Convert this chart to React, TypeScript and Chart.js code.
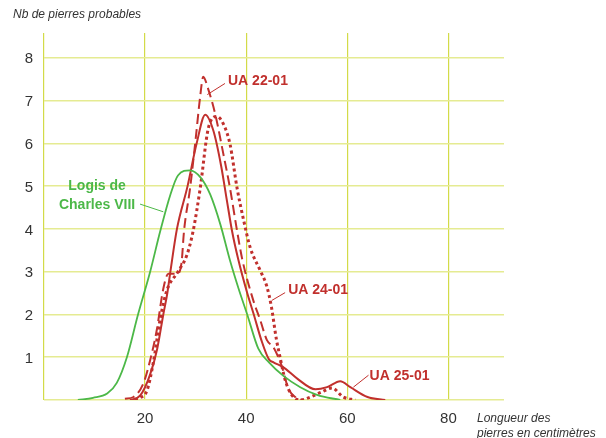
import React, { useEffect, useRef } from 'react';
import { Chart, registerables } from 'chart.js';

Chart.register(...registerables);

// ---- Data ----
const xTickValues = [20, 40, 60, 80];
const yTickValues = [1, 2, 3, 4, 5, 6, 7, 8];

const logisX = [6.7, 9.7, 12.5, 14.4, 16.4, 18.6, 21, 23, 25, 26.5, 28.9, 31, 32.9, 34.9, 36.8, 38.5, 40.2, 42.4, 44.5, 47.3, 50.7, 54, 58.6];
const logisY = [0, 0.05, 0.15, 0.4, 1.0, 2.0, 3.0, 3.95, 4.8, 5.25, 5.37, 5.2, 4.8, 4.1, 3.26, 2.6, 2.0, 1.2, 0.88, 0.57, 0.3, 0.12, 0];

const ua22X = [16, 17.7, 19.7, 21, 22.3, 23.6, 24.6, 26.3, 27.2, 27.7, 28.9, 30.0, 30.9, 31.5, 32.4, 33.9, 35.4, 36.8, 38.2, 39.2, 41.4, 42.8, 44.1, 45.4, 47.1, 48.3, 49.7, 51];
const ua22Y = [0.03, 0.07, 0.4, 0.93, 1.63, 2.6, 2.95, 2.95, 3.2, 3.95, 4.95, 6.1, 7.1, 7.56, 7.3, 6.67, 5.8, 4.95, 3.95, 3.3, 2.33, 1.86, 1.4, 1.23, 0.77, 0.28, 0.07, 0];

const ua24X = [18, 19, 20.4, 21.6, 23, 24.3, 26.5, 28.3, 29.5, 30.9, 32.5, 34.2, 35.5, 36.8, 38.2, 39.5, 40.8, 42.8, 44.1, 45, 46, 46.7, 47.7, 49, 50.7, 52.3, 55, 57, 59.2, 61.6];
const ua24Y = [0, 0.05, 0.23, 0.86, 1.9, 2.56, 3.0, 3.4, 3.95, 4.95, 6.35, 6.63, 6.45, 5.98, 4.95, 4.2, 3.56, 3.02, 2.65, 2.17, 1.4, 1.0, 0.47, 0.12, 0, 0.05, 0.19, 0.28, 0.07, 0];

const ua25X = [17, 19, 21, 22.4, 23.6, 24.4, 25, 26.3, 28.4, 30.2, 31.9, 33.5, 35, 36.2, 37.2, 38.4, 40.2, 41.5, 43, 44.5, 45.4, 47.3, 50.1, 53.7, 56, 58.6, 60.6, 64, 67.5];
const ua25Y = [0, 0.1, 0.6, 1.2, 2.0, 2.5, 3.0, 4.0, 5.0, 6.0, 6.67, 6.3, 5.5, 4.65, 3.95, 3.3, 2.5, 2.0, 1.4, 0.95, 0.88, 0.77, 0.5, 0.25, 0.3, 0.44, 0.3, 0.07, 0];

const RED = '#c1302d';
const GREEN = '#4cb848';
const FONT = '"Liberation Sans", Arial, Helvetica, sans-serif';

// Annotation labels anchored in data space
const annotations = [
  { lines: ['UA 22-01'], color: RED, at: [36.4, 7.37], align: 'left', from: [32.3, 7.14], to: [35.8, 7.4] },
  { lines: ['UA 24-01'], color: RED, at: [48.3, 2.47], align: 'left', from: [45.1, 2.33], to: [47.7, 2.51] },
  { lines: ['UA 25-01'], color: RED, at: [64.4, 0.47], align: 'left', from: [61.2, 0.3], to: [64.2, 0.58] },
  { lines: ['Logis de', 'Charles VIII'], color: GREEN, at: [10.5, 4.91], align: 'center', from: [19.0, 4.58], to: [23.6, 4.4] },
];

const zip = (xs: number[], ys: number[]) => xs.map((x, i) => ({ x, y: ys[i] }));

const textPlugin = {
  id: 'textPlugin',
  afterDraw(chart: any) {
    const { ctx } = chart;
    const xs = chart.scales.x;
    const ys = chart.scales.y;
    ctx.save();
    ctx.fillStyle = '#333';
    ctx.font = `italic 12px ${FONT}`;
    ctx.textAlign = 'left';
    ctx.textBaseline = 'alphabetic';
    ctx.fillText('Nb de pierres probables', 13, 18);
    ctx.fillText('Longueur des', 477, 422);
    ctx.fillText('pierres en centimètres', 477, 437);

    for (const a of annotations) {
      ctx.strokeStyle = a.color;
      ctx.lineWidth = 1;
      ctx.beginPath();
      ctx.moveTo(xs.getPixelForValue(a.from[0]), ys.getPixelForValue(a.from[1]));
      ctx.lineTo(xs.getPixelForValue(a.to[0]), ys.getPixelForValue(a.to[1]));
      ctx.stroke();
      ctx.fillStyle = a.color;
      ctx.font = `bold 14px ${FONT}`;
      ctx.textAlign = a.align as CanvasTextAlign;
      const px = xs.getPixelForValue(a.at[0]);
      const py = ys.getPixelForValue(a.at[1]);
      a.lines.forEach((t, i) => ctx.fillText(t, px, py + i * 19));
    }
    ctx.restore();
  },
};

export default function App() {
  const ref = useRef<HTMLCanvasElement>(null);
  useEffect(() => {
    if (!ref.current) return;
    const chart = new Chart(ref.current, {
      type: 'line',
      data: {
        datasets: [
          { label: 'Logis de Charles VIII', data: zip(logisX, logisY), borderColor: GREEN, borderWidth: 1.8 },
          { label: 'UA 22-01', data: zip(ua22X, ua22Y), borderColor: RED, borderWidth: 2, borderDash: [10, 5] },
          { label: 'UA 24-01', data: zip(ua24X, ua24Y), borderColor: RED, borderWidth: 3, borderDash: [3, 3] },
          { label: 'UA 25-01', data: zip(ua25X, ua25Y), borderColor: RED, borderWidth: 2 },
        ].map((d) => ({ ...d, pointRadius: 0, fill: false, cubicInterpolationMode: 'monotone' as const })),
      },
      options: {
        responsive: false,
        animation: false,
        devicePixelRatio: 1,
        layout: { padding: { top: 33, right: 102, left: 0, bottom: 0 } },
        plugins: { legend: { display: false }, tooltip: { enabled: false } },
        scales: {
          x: {
            type: 'linear',
            min: 0,
            max: 91,
            afterFit: (s: any) => { s.height = 38; },
            afterBuildTicks: (s: any) => { s.ticks = [0, ...xTickValues].map((v) => ({ value: v })); },
            ticks: {
              includeBounds: false,
              padding: 10,
              color: '#333',
              font: { family: FONT, size: 15 },
              callback: (v: any) => (xTickValues.includes(v) ? String(v) : ''),
            },
            grid: { color: '#d3db48', lineWidth: 1.2, drawTicks: false },
            border: { display: false },
          },
          y: {
            type: 'linear',
            min: 0,
            max: 8.58,
            afterFit: (s: any) => { s.width = 44; },
            afterBuildTicks: (s: any) => { s.ticks = [0, ...yTickValues].map((v) => ({ value: v })); },
            ticks: {
              includeBounds: false,
              padding: 11,
              labelOffset: 1.5,
              color: '#333',
              font: { family: FONT, size: 15 },
              callback: (v: any) => (yTickValues.includes(v) ? String(v) : ''),
            },
            grid: { color: '#e5eb92', lineWidth: 1.6, drawTicks: false },
            border: { display: false },
          },
        },
      },
      plugins: [textPlugin],
    } as any);
    return () => chart.destroy();
  }, []);
  return (
    <div style={{ position: 'absolute', left: 0, top: 0, width: 606, height: 438 }}>
      <canvas ref={ref} width={606} height={438} style={{ width: 606, height: 438, display: 'block' }} />
    </div>
  );
}
